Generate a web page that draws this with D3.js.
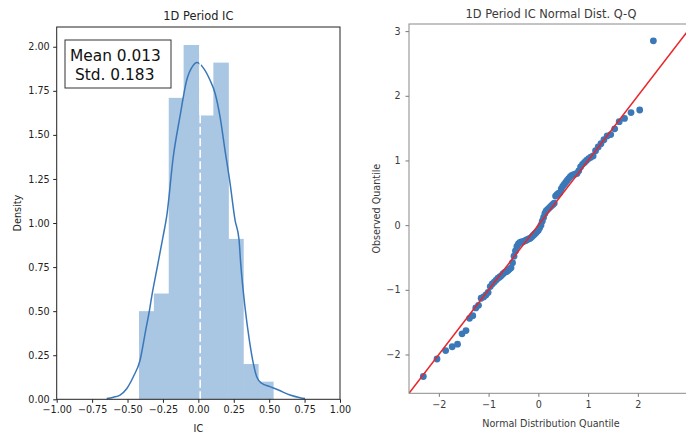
<!DOCTYPE html>
<html>
<head>
<meta charset="utf-8">
<script src="https://cdn.jsdelivr.net/npm/d3@7"></script>
<style>
body { margin: 0; background: #fff; }
text { font-family: "DejaVu Sans", sans-serif; }
</style>
</head>
<body>
<div id="chart"></div>
<script>
// histogram of IC (density), bin edges and heights
var histEdges = [-0.419, -0.314, -0.209, -0.104, 0.001, 0.106, 0.211, 0.316, 0.421, 0.527];
var histDensity = [0.50, 0.60, 1.71, 2.01, 1.61, 1.91, 0.91, 0.20, 0.10];

// kde curve
var kdeX = [-0.647, -0.60, -0.553, -0.506, -0.459, -0.412, -0.37, -0.346, -0.33, -0.29, -0.25, -0.223,
            -0.177, -0.130, -0.082, -0.040, -0.010, 0.035, 0.082, 0.118, 0.153, 0.188, 0.224, 0.259,
            0.287, 0.299, 0.329, 0.360, 0.388, 0.412, 0.447, 0.506, 0.565, 0.647, 0.718, 0.753];
var kdeY = [0.004, 0.012, 0.024, 0.06, 0.128, 0.22, 0.40, 0.50, 0.58, 0.75, 0.92, 1.04,
            1.376, 1.603, 1.811, 1.89, 1.91, 1.88, 1.811, 1.736, 1.603, 1.414, 1.225, 1.017,
            0.907, 0.771, 0.525, 0.336, 0.204, 0.128, 0.091, 0.072, 0.053, 0.024, 0.009, 0.004];

var meanIC = 0.013;
var stdIC = 0.183;

// Q-Q points (theoretical normal quantile, observed standardized quantile)
var qqTheory = [-2.312, -2.037, -1.863, -1.732, -1.625, -1.534, -1.454, -1.383, -1.318, -1.258,
                -1.203, -1.150, -1.101, -1.054, -1.010, -0.967, -0.927, -0.887, -0.849, -0.812,
                -0.776, -0.742, -0.708, -0.674, -0.642, -0.610, -0.579, -0.549, -0.519, -0.489,
                -0.460, -0.431, -0.402, -0.374, -0.346, -0.319, -0.292, -0.264, -0.237, -0.210,
                -0.184, -0.157, -0.131, -0.105, -0.078, -0.052, -0.026, 0.000, 0.026, 0.052,
                0.078, 0.105, 0.131, 0.157, 0.184, 0.210, 0.237, 0.264, 0.292, 0.319,
                0.346, 0.374, 0.402, 0.431, 0.460, 0.489, 0.519, 0.549, 0.579, 0.610,
                0.642, 0.674, 0.708, 0.742, 0.776, 0.812, 0.849, 0.887, 0.927, 0.967,
                1.010, 1.054, 1.101, 1.150, 1.203, 1.258, 1.318, 1.383, 1.454, 1.534,
                1.625, 1.732, 1.863, 2.037, 2.312];
var qqObserved = [-2.34, -2.07, -1.94, -1.88, -1.84, -1.68, -1.63, -1.44, -1.40, -1.28,
                  -1.24, -1.13, -1.11, -1.08, -1.04, -0.95, -0.91, -0.88, -0.85, -0.82,
                  -0.80, -0.78, -0.75, -0.73, -0.72, -0.70, -0.68, -0.66, -0.58, -0.48,
                  -0.40, -0.33, -0.29, -0.27, -0.26, -0.26, -0.25, -0.24, -0.23, -0.22,
                  -0.21, -0.20, -0.18, -0.16, -0.14, -0.12, -0.10, -0.08, -0.04, 0.00,
                  0.06, 0.12, 0.18, 0.22, 0.24, 0.26, 0.28, 0.30, 0.32, 0.34,
                  0.45, 0.47, 0.49, 0.50, 0.56, 0.60, 0.63, 0.66, 0.69, 0.72,
                  0.75, 0.77, 0.78, 0.79, 0.80, 0.84, 0.90, 0.94, 0.97, 1.00,
                  1.03, 1.05, 1.07, 1.15, 1.21, 1.26, 1.32, 1.38, 1.40, 1.49,
                  1.60, 1.65, 1.74, 1.78, 2.85];

var histXTicks = [-1, -0.75, -0.5, -0.25, 0, 0.25, 0.5, 0.75, 1];
var histYTicks = [0, 0.25, 0.5, 0.75, 1, 1.25, 1.5, 1.75, 2];
var qqXTicks = [-2, -1, 0, 1, 2];   // the 3 tick falls outside the picture
var qqYTicks = [-2, -1, 0, 1, 2, 3];
var qqLims = [-2.6, 3.11];

var svg = d3.select("#chart").append("svg")
    .attr("width", 686)
    .attr("height", 437);

// ---------------- left: histogram + kde ----------------
var hx = d3.scaleLinear().domain([-1, 1]).range([56.7, 340]);
var hy = d3.scaleLinear().domain([0, 2.112]).range([399.3, 27]);

var left = svg.append("g");

left.selectAll("rect.bar")
    .data(histDensity)
    .enter().append("rect")
    .attr("class", "bar")
    .attr("x", function(d, i) { return hx(histEdges[i]); })
    .attr("width", function(d, i) { return hx(histEdges[i + 1]) - hx(histEdges[i]) + 0.6; })
    .attr("y", function(d) { return hy(d); })
    .attr("height", function(d) { return hy(0) - hy(d); })
    .style("fill", "#a9c6e2");

var kdePts = kdeX.map(function(x, i) { return [x, kdeY[i]]; });
var kdeLine = d3.line()
    .x(function(d) { return hx(d[0]); })
    .y(function(d) { return hy(d[1]); })
    .curve(d3.curveMonotoneX);
left.append("path")
    .attr("d", kdeLine(kdePts))
    .style("fill", "none")
    .style("stroke", "#3a77b9")
    .style("stroke-width", 1.5);

// mean line
left.append("line")
    .attr("x1", hx(meanIC)).attr("x2", hx(meanIC))
    .attr("y1", hy(0)).attr("y2", hy(2.112))
    .style("stroke", "#fff")
    .style("stroke-width", 1.6)
    .style("stroke-dasharray", "8,3.5");

// axes
var hxAxis = d3.axisBottom(hx).tickValues(histXTicks).tickFormat(d3.format(".2f")).tickSize(3.5).tickPadding(3);
var hyAxis = d3.axisLeft(hy).tickValues(histYTicks).tickFormat(d3.format(".2f")).tickSize(3.5).tickPadding(3.5);
var gx = left.append("g").attr("transform", "translate(0," + hy(0) + ")").call(hxAxis);
var gy = left.append("g").attr("transform", "translate(" + hx(-1) + ",0)").call(hyAxis);
[gx, gy].forEach(function(g) {
    g.select(".domain").remove();
    g.selectAll("line").style("stroke", "#222");
    g.selectAll("text").style("font-size", "9.6px").style("fill", "#222")
        .style("font-family", "DejaVu Sans, sans-serif");
});

left.append("rect")
    .attr("x", hx(-1)).attr("y", hy(2.112))
    .attr("width", hx(1) - hx(-1)).attr("height", hy(0) - hy(2.112))
    .style("fill", "none").style("stroke", "#222").style("stroke-width", 1);

left.append("text").attr("x", (hx(-1) + hx(1)) / 2).attr("y", 19.5)
    .attr("text-anchor", "middle").style("font-size", "11.4px").style("fill", "#222")
    .text("1D Period IC");
left.append("text").attr("x", (hx(-1) + hx(1)) / 2).attr("y", 432)
    .attr("text-anchor", "middle").style("font-size", "9.6px").style("fill", "#222")
    .text("IC");
left.append("text").attr("transform", "translate(21," + (hy(0) + hy(2.112)) / 2 + ") rotate(-90)")
    .attr("text-anchor", "middle").style("font-size", "9.6px").style("fill", "#222")
    .text("Density");

// stats box
left.append("rect")
    .attr("x", 65).attr("y", 40).attr("width", 106).attr("height", 48)
    .style("fill", "#fff").style("stroke", "#333").style("stroke-width", 1);
left.append("text").attr("x", 70).attr("y", 60.5)
    .style("font-size", "15.4px").style("fill", "#111")
    .text("Mean " + meanIC.toFixed(3));
left.append("text").attr("x", 75).attr("y", 80)
    .style("font-size", "15.4px").style("fill", "#111")
    .text("Std. " + stdIC.toFixed(3));

// ---------------- right: Q-Q plot ----------------
var qx = d3.scaleLinear().domain(qqLims).range([409, 409 + (qqLims[1] - qqLims[0]) * 49.75]);
var qy = d3.scaleLinear().domain(qqLims).range([393.3, 24]);

var right = svg.append("g");

right.append("clipPath").attr("id", "qqclip")
    .append("rect")
    .attr("x", qx(qqLims[0])).attr("y", qy(qqLims[1]))
    .attr("width", qx(qqLims[1]) - qx(qqLims[0])).attr("height", qy(qqLims[0]) - qy(qqLims[1]));

var qqPts = qqTheory.map(function(x, i) { return [x, qqObserved[i]]; });
right.append("g").attr("clip-path", "url(#qqclip)")
    .selectAll("circle")
    .data(qqPts)
    .enter().append("circle")
    .attr("cx", function(d) { return qx(d[0]); })
    .attr("cy", function(d) { return qy(d[1]); })
    .attr("r", 3.4)
    .style("fill", "#3b78b8");

right.append("line")
    .attr("clip-path", "url(#qqclip)")
    .attr("x1", qx(qqLims[0])).attr("y1", qy(qqLims[0]))
    .attr("x2", qx(qqLims[1])).attr("y2", qy(qqLims[1]))
    .style("stroke", "#e8262b")
    .style("stroke-width", 1.5);

var qxAxis = d3.axisBottom(qx).tickValues(qqXTicks).tickFormat(d3.format("d")).tickSize(3.5).tickPadding(4);
var qyAxis = d3.axisLeft(qy).tickValues(qqYTicks).tickFormat(d3.format("d")).tickSize(3.5).tickPadding(5);
var rgx = right.append("g").attr("transform", "translate(0," + qy(qqLims[0]) + ")").call(qxAxis);
var rgy = right.append("g").attr("transform", "translate(" + qx(qqLims[0]) + ",0)").call(qyAxis);
[rgx, rgy].forEach(function(g) {
    g.select(".domain").remove();
    g.selectAll("line").style("stroke", "#777");
    g.selectAll("text").style("font-size", "9.6px").style("fill", "#3a3a3a")
        .style("font-family", "DejaVu Sans, sans-serif");
});

right.append("rect")
    .attr("x", qx(qqLims[0])).attr("y", qy(qqLims[1]))
    .attr("width", qx(qqLims[1]) - qx(qqLims[0])).attr("height", qy(qqLims[0]) - qy(qqLims[1]))
    .style("fill", "none").style("stroke", "#8a8a8a").style("stroke-width", 1);

right.append("text").attr("x", 551).attr("y", 17.5)
    .attr("text-anchor", "middle").style("font-size", "11.4px").style("fill", "#3a3a3a")
    .text("1D Period IC Normal Dist. Q-Q");
right.append("text").attr("x", 551).attr("y", 427)
    .attr("text-anchor", "middle").style("font-size", "9.6px").style("fill", "#3a3a3a")
    .text("Normal Distribution Quantile");
right.append("text").attr("transform", "translate(380," + (qy(qqLims[0]) + qy(qqLims[1])) / 2 + ") rotate(-90)")
    .attr("text-anchor", "middle").style("font-size", "9.6px").style("fill", "#3a3a3a")
    .text("Observed Quantile");
</script>
</body>
</html>
